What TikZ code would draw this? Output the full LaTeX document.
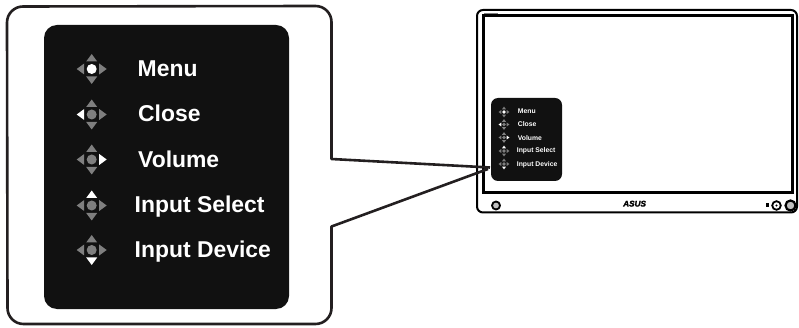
\documentclass[tikz,border=0pt]{standalone}
\usepackage{fontspec}
\setmainfont{Liberation Sans}
\newfontfamily\logofont[FakeBold=2.5]{Liberation Sans Bold Italic}
\definecolor{panelblack}{HTML}{111111}
\definecolor{icongray}{HTML}{7F7F7F}
\definecolor{linedark}{HTML}{231F20}
\tikzset{
  panelbox/.style={fill=panelblack,draw=none},
  biglabel/.style={anchor=base west,inner sep=0pt,text=white,font=\fontsize{22.9}{24}\selectfont\bfseries},
  smalllabel/.style={anchor=base west,inner sep=0pt,text=white,font=\fontsize{6.8}{8}\selectfont\bfseries},
  calloutline/.style={draw=linedark,line width=2.6pt,line join=round},
  padicon/.pic={
    \fill[fill=\upc] (0,-15) -- (5.5,-7.5) -- (-5.5,-7.5) -- cycle;
    \fill[fill=\downc] (0,15) -- (5.5,7.5) -- (-5.5,7.5) -- cycle;
    \fill[fill=\leftc] (-15,0) -- (-7.5,-5.5) -- (-7.5,5.5) -- cycle;
    \fill[fill=\rightc] (15,0) -- (7.5,-5.5) -- (7.5,5.5) -- cycle;
    \fill[fill=\midc] (0,0) circle (5);
  },
  smallicon/.style={scale=0.36,transform shape},
}
\newcommand{\padcolors}[5]{\def\upc{#1}\def\downc{#2}\def\leftc{#3}\def\rightc{#4}\def\midc{#5}}
\begin{document}
\begin{tikzpicture}[x=1pt,y=-1pt]
\useasboundingbox (0,0) rectangle (799,328);
% monitor
\draw[line width=2pt,rounded corners=6] (477,212.5) -- (477,10) -- (797,10) -- (797,212.5) -- cycle;
\draw[line width=3pt] (483,15.5) rectangle (792,193);
\draw[gray,line width=0.7pt] (484,13) -- (498,13);
\draw[line width=1.8pt,fill=lightgray] (496,205.5) circle (4);
\fill (765.5,203.5) rectangle (769.3,207.5);
\draw[line width=1.8pt] (776.5,205.5) circle (4.3);
\fill (776.5,205.5) circle (1.2);
\draw[line width=2.2pt,fill=lightgray] (790.5,205.5) circle (5);
\node[anchor=base west,inner sep=0pt,font=\fontsize{8.2}{9}\selectfont\logofont] (logo) at (623,206.5) {ASUS};
% callout
\coordinate (tipA) at (490,167.5);
\coordinate (tipB) at (488,169);
\draw[calloutline,rounded corners=0pt] (tipA) -- (331.5,159) -- (331.5,22)
  arc[start angle=0,end angle=-90,radius=16] -- (23,6.5)
  arc[start angle=-90,end angle=-180,radius=16] -- (7.5,308)
  arc[start angle=180,end angle=90,radius=16] -- (315.5,324)
  arc[start angle=90,end angle=0,radius=16] -- (331.5,226.5) -- (tipB);
% big panel
\fill[panelbox,rounded corners=13] (44,25) rectangle (289,309);
\padcolors{icongray}{icongray}{icongray}{icongray}{white}
\pic at (91.7,69) {padicon};
\padcolors{icongray}{icongray}{white}{icongray}{icongray}
\pic at (91.7,114.5) {padicon};
\padcolors{icongray}{icongray}{icongray}{white}{icongray}
\pic at (91.7,159.5) {padicon};
\padcolors{white}{icongray}{icongray}{icongray}{icongray}
\pic at (91.7,205.5) {padicon};
\padcolors{icongray}{white}{icongray}{icongray}{icongray}
\pic at (91.7,250) {padicon};
\node[biglabel] (m1) at (137.5,76.7) {Menu};
\node[biglabel] (m2) at (138,121.7) {Close};
\node[biglabel] (m3) at (138,167.3) {Volume};
\node[biglabel] (m4) at (134.5,213) {Input Select};
\node[biglabel] (m5) at (134.5,257.7) {Input Device};
% small panel
\fill[panelbox,rounded corners=7] (491,98) rectangle (562,181);
\padcolors{icongray}{icongray}{icongray}{icongray}{white}
\pic[smallicon] at (504,112) {padicon};
\padcolors{icongray}{icongray}{white}{icongray}{icongray}
\pic[smallicon] at (504,124.5) {padicon};
\padcolors{icongray}{icongray}{icongray}{white}{icongray}
\pic[smallicon] at (504,137.5) {padicon};
\padcolors{white}{icongray}{icongray}{icongray}{icongray}
\pic[smallicon] at (504,151) {padicon};
\padcolors{icongray}{white}{icongray}{icongray}{icongray}
\pic[smallicon] at (504,164) {padicon};
\node[smalllabel] (s1) at (517.7,114) {Menu};
\node[smalllabel] (s2) at (517.7,127) {Close};
\node[smalllabel] (s3) at (517.7,140.4) {Volume};
\node[smalllabel] (s4) at (516.7,153) {Input Select};
\node[smalllabel] (s5) at (516.7,167) {Input Device};
\end{tikzpicture}
\end{document}
